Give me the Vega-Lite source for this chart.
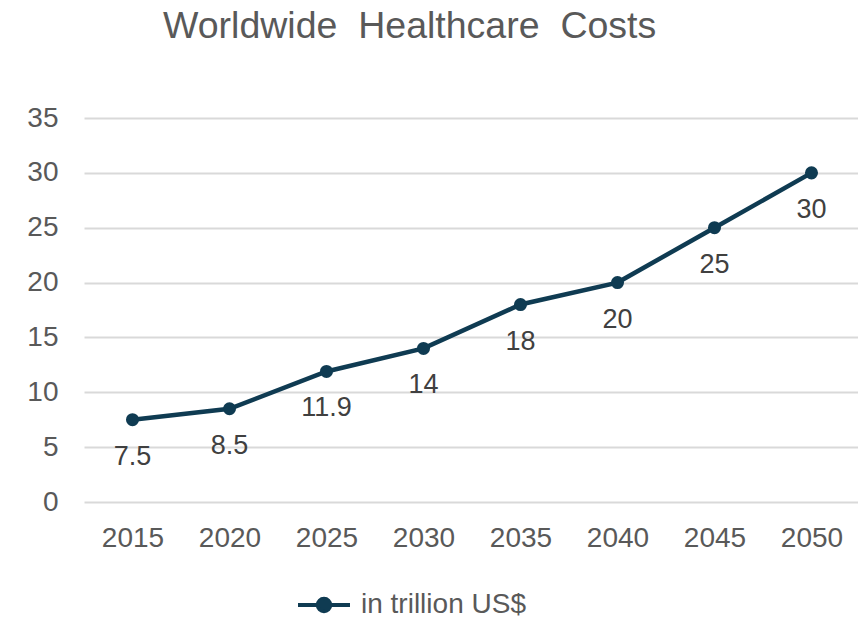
{
  "$schema": "https://vega.github.io/schema/vega-lite/v6.json",
  "autosize": "none",
  "padding": {"left": 84, "top": 118, "right": 0, "bottom": 118},
  "width": 776,
  "height": 384,
  "background": "white",
  "config": {"view": {"stroke": null}},
  "title": {
    "text": "Worldwide\u00a0 Healthcare\u00a0 Costs",
    "anchor": "start",
    "frame": "group",
    "dx": 79,
    "offset": 29,
    "baseline": "alphabetic",
    "font": "Liberation Sans",
    "fontSize": 37.5,
    "fontWeight": "normal",
    "color": "#595959"
  },
  "data": {
    "values": [
      {"year": "2015", "value": 7.5, "series": "in trillion US$"},
      {"year": "2020", "value": 8.5, "series": "in trillion US$"},
      {"year": "2025", "value": 11.9, "series": "in trillion US$"},
      {"year": "2030", "value": 14, "series": "in trillion US$"},
      {"year": "2035", "value": 18, "series": "in trillion US$"},
      {"year": "2040", "value": 20, "series": "in trillion US$"},
      {"year": "2045", "value": 25, "series": "in trillion US$"},
      {"year": "2050", "value": 30, "series": "in trillion US$"}
    ]
  },
  "encoding": {
    "x": {
      "field": "year",
      "type": "ordinal",
      "scale": {"type": "point", "padding": 0.5},
      "axis": {
        "title": null,
        "labelAngle": 0,
        "domain": false,
        "ticks": false,
        "grid": false,
        "labelFont": "Liberation Sans",
        "labelFontSize": 28,
        "labelColor": "#595959",
        "labelPadding": 22
      }
    },
    "y": {
      "field": "value",
      "type": "quantitative",
      "scale": {"domain": [0, 35], "nice": false},
      "axis": {
        "title": null,
        "values": [0, 5, 10, 15, 20, 25, 30, 35],
        "domain": false,
        "ticks": false,
        "grid": true,
        "gridColor": "#d9d9d9",
        "gridWidth": 1.8,
        "labelFont": "Liberation Sans",
        "labelFontSize": 28,
        "labelColor": "#595959",
        "labelPadding": 26
      }
    }
  },
  "layer": [
    {
      "mark": {"type": "line", "strokeWidth": 4.5, "point": {"filled": true, "size": 170, "opacity": 1}},
      "encoding": {
        "color": {
          "field": "series",
          "type": "nominal",
          "scale": {"range": ["#0f3b52"]},
          "legend": {
            "title": null,
            "orient": "none",
            "legendX": 212,
            "legendY": 459,
            "symbolType": "M-1,0H1M-0.24,0A0.24,0.24,0,1,1,0.24,0A0.24,0.24,0,1,1,-0.24,0Z",
            "symbolSize": 2700,
            "symbolStrokeWidth": 4,
            "symbolFillColor": "#0f3b52",
            "symbolStrokeColor": "#0f3b52",
            "labelFont": "Liberation Sans",
            "labelFontSize": 28,
            "labelColor": "#595959",
            "labelOffset": 9,
            "labelLimit": 400
          }
        }
      }
    },
    {
      "mark": {
        "type": "text",
        "baseline": "alphabetic",
        "dy": 45,
        "font": "Liberation Sans",
        "fontSize": 27,
        "color": "#404040"
      },
      "encoding": {
        "text": {"field": "value", "type": "quantitative"}
      }
    }
  ]
}
